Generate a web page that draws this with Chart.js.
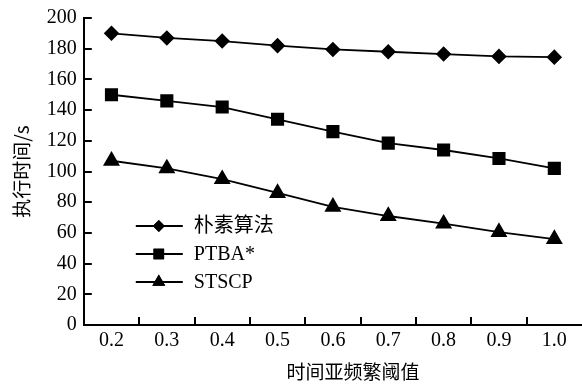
<!DOCTYPE html>
<html>
<head>
<meta charset="utf-8">
<script src="https://cdn.jsdelivr.net/npm/chart.js@4/dist/chart.umd.min.js"></script>
<style>
  html, body { margin: 0; padding: 0; background: #fff; }
  #wrap { width: 582px; height: 390px; }
</style>
</head>
<body>
<div id="wrap"><canvas id="chart"></canvas></div>
<script>
// threshold categories and execution times (s)
const thresholds = ['0.2', '0.3', '0.4', '0.5', '0.6', '0.7', '0.8', '0.9', '1.0'];
const naiveTimes = [190, 187, 185, 182, 179.5, 178, 176.5, 175, 174.5];
const ptbaTimes = [150, 146, 142, 134, 126, 118.5, 114, 108.5, 102];
const stscpTimes = [107, 102, 95, 86, 77, 71, 66, 60.5, 56];
const yTicks = [0, 20, 40, 60, 80, 100, 120, 140, 160, 180, 200];

const seriesNames = ['朴素算法', 'PTBA*', 'STSCP'];
const markerStyles = ['rectRot', 'rect', 'triangle'];
const markerSizes = [6.5, 8, 8];

const labelFont = 'Liberation Serif, Noto Sans CJK SC, serif';
const titleFont = 'Noto Sans CJK SC, sans-serif';

function makeSeries(i, data) {
  return {
    label: seriesNames[i],
    data,
    borderColor: '#000',
    backgroundColor: '#000',
    borderWidth: 1.8,
    pointStyle: markerStyles[i],
    pointRadius: markerSizes[i],
    pointHoverRadius: markerSizes[i],
    tension: 0,
    clip: false
  };
}

// no extra room for overhanging tick labels, layout padding decides the plot box
const noPad = s => { s.paddingLeft = 0; s.paddingRight = 0; s.paddingTop = 0; s.paddingBottom = 0; };

// tick marks pointing into the plot, plus x title and legend inside plot
const decorPlugin = {
  id: 'decor',
  afterDraw(chart) {
    const ctx = chart.ctx;
    const area = chart.chartArea;
    const xs = chart.scales.x, ys = chart.scales.y;
    ctx.save();
    ctx.strokeStyle = '#000';
    ctx.lineWidth = 2;
    ctx.beginPath();
    ys.ticks.forEach((t, i) => {
      const y = Math.round(ys.getPixelForTick(i));
      ctx.moveTo(area.left, y);
      ctx.lineTo(area.left + 8, y);
    });
    for (let i = 1; i < thresholds.length; i++) {
      const x = Math.round((xs.getPixelForValue(i - 1) + xs.getPixelForValue(i)) / 2);
      ctx.moveTo(x, area.bottom);
      ctx.lineTo(x, area.bottom - 8);
    }
    ctx.stroke();

    // x axis title
    ctx.fillStyle = '#000';
    ctx.font = '19px ' + titleFont;
    ctx.textAlign = 'center';
    ctx.textBaseline = 'middle';
    ctx.fillText('时间亚频繁阈值', (area.left + area.right) / 2 + 20, chart.height - 18);

    // legend
    const lx = area.left + 52, ly = ys.getPixelForValue(64.5);
    chart.data.datasets.forEach((ds, i) => {
      const y = ly + i * 28;
      ctx.lineWidth = 1.8;
      ctx.beginPath();
      ctx.moveTo(lx, y);
      ctx.lineTo(lx + 47, y);
      ctx.stroke();
      Chart.helpers.drawPoint(ctx, { pointStyle: ds.pointStyle, radius: ds.pointRadius - 0.5, borderWidth: 0 }, lx + 23, y);
      ctx.fill();
      ctx.font = '20px ' + labelFont;
      ctx.textAlign = 'left';
      ctx.fillText(ds.label, lx + 58, y + 1);
    });
    ctx.restore();
  }
};

new Chart(document.getElementById('chart'), {
  type: 'line',
  data: {
    labels: thresholds,
    datasets: [
      makeSeries(0, naiveTimes),
      makeSeries(1, ptbaTimes),
      makeSeries(2, stscpTimes)
    ]
  },
  options: {
    responsive: true,
    maintainAspectRatio: false,
    animation: false,
    layout: { autoPadding: false, padding: { left: 10, right: 0, top: 18, bottom: 33 } },
    plugins: {
      legend: { display: false },
      tooltip: { enabled: false }
    },
    scales: {
      x: {
        offset: true,
        afterFit: noPad,
        grid: { display: false, drawTicks: false, offset: true },
        border: { display: true, color: '#000', width: 2 },
        ticks: {
          color: '#000',
          padding: 4,
          font: { family: labelFont, size: 20 }
        }
      },
      y: {
        min: 0,
        max: 200,
        afterFit: noPad,
        afterBuildTicks: scale => { scale.ticks = yTicks.map(v => ({ value: v })); },
        grid: { display: false, drawTicks: false },
        border: { display: true, color: '#000', width: 2 },
        ticks: {
          color: '#000',
          padding: 7,
          font: { family: labelFont, size: 20 }
        },
        title: {
          display: true,
          text: '执行时间/s',
          color: '#000',
          padding: { top: 0, bottom: 7 },
          font: { family: titleFont, size: 19 }
        }
      }
    }
  },
  plugins: [decorPlugin]
});
</script>
</body>
</html>
